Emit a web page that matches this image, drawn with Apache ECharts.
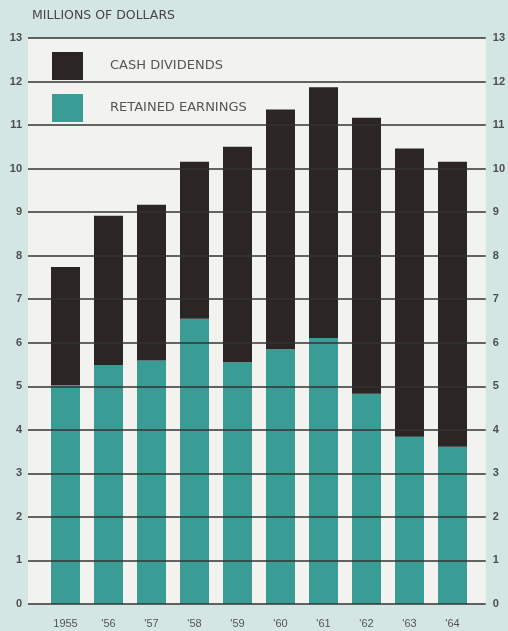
<!DOCTYPE html>
<html>
<head>
<meta charset="utf-8">
<script src="https://cdn.jsdelivr.net/npm/echarts@6/dist/echarts.min.js"></script>
<style>
  html, body { margin: 0; padding: 0; background: #d4e6e4; }
  #chart { width: 508px; height: 631px; }
</style>
</head>
<body>
<div id="chart"></div>
<script>
const years = ['1955', "'56", "'57", "'58", "'59", "'60", "'61", "'62", "'63", "'64"];
const retainedEarnings = [5.03, 5.49, 5.59, 6.55, 5.55, 5.85, 6.11, 4.83, 3.84, 3.61];
const cashDividends = [2.71, 3.43, 3.58, 3.61, 4.95, 5.51, 5.76, 6.34, 6.62, 6.55];
const yTicks = [0, 13, 1]; // min, max, interval

const font = 'Liberation Sans, Arial, sans-serif';
const wideFont = 'DejaVu Sans, sans-serif';
const tickLabel = { fontFamily: font, fontSize: 11, fontWeight: 'bold', color: '#4d4d4d' };

const chart = echarts.init(document.getElementById('chart'), null, { renderer: 'canvas' });

chart.setOption({
  backgroundColor: '#d4e6e4',
  animation: false,
  title: {
    text: 'MILLIONS OF DOLLARS',
    left: 27,
    top: 4,
    textStyle: { fontFamily: wideFont, fontSize: 12.5, fontWeight: 'normal', color: '#444' }
  },
  legend: {
    data: ['CASH DIVIDENDS', 'RETAINED EARNINGS'],
    orient: 'vertical',
    left: 47,
    top: 47,
    icon: 'rect',
    itemWidth: 31,
    itemHeight: 28,
    itemGap: 14,
    selectedMode: false,
    textStyle: { fontFamily: wideFont, fontSize: 13, color: '#555', padding: [0, 0, 0, 22] }
  },
  grid: [
    { left: 44, right: 34, top: 38, bottom: 27 },
    { left: 28, right: 18, top: 38, bottom: 27, show: true, backgroundColor: '#f2f2ee', borderWidth: 0 }
  ],
  xAxis: [
    {
      type: 'category', gridIndex: 0, data: years,
      axisLine: { show: false }, axisTick: { show: false },
      axisLabel: { fontFamily: font, fontSize: 11, color: '#555', margin: 14 }
    },
    { type: 'value', gridIndex: 1, show: false, min: 0, max: 1 }
  ],
  yAxis: [
    { type: 'value', gridIndex: 0, min: yTicks[0], max: yTicks[1], interval: yTicks[2], show: false },
    {
      type: 'value', gridIndex: 1, position: 'left', z: 10,
      min: yTicks[0], max: yTicks[1], interval: yTicks[2],
      axisLine: { show: false }, axisTick: { show: false },
      axisLabel: Object.assign({ margin: 6 }, tickLabel),
      splitLine: { show: true, lineStyle: { color: '#333', width: 1.5 } }
    },
    {
      type: 'value', gridIndex: 1, position: 'right',
      min: yTicks[0], max: yTicks[1], interval: yTicks[2],
      axisLine: { show: false }, axisTick: { show: false },
      axisLabel: Object.assign({ margin: 7 }, tickLabel),
      splitLine: { show: false }
    }
  ],
  series: [
    {
      name: 'RETAINED EARNINGS', type: 'bar', stack: 'total',
      xAxisIndex: 0, yAxisIndex: 0, barWidth: 29,
      itemStyle: { color: '#3a9d95' },
      data: retainedEarnings
    },
    {
      name: 'CASH DIVIDENDS', type: 'bar', stack: 'total',
      xAxisIndex: 0, yAxisIndex: 0, barWidth: 29,
      itemStyle: { color: '#2b2624' },
      data: cashDividends
    }
  ]
});
</script>
</body>
</html>
